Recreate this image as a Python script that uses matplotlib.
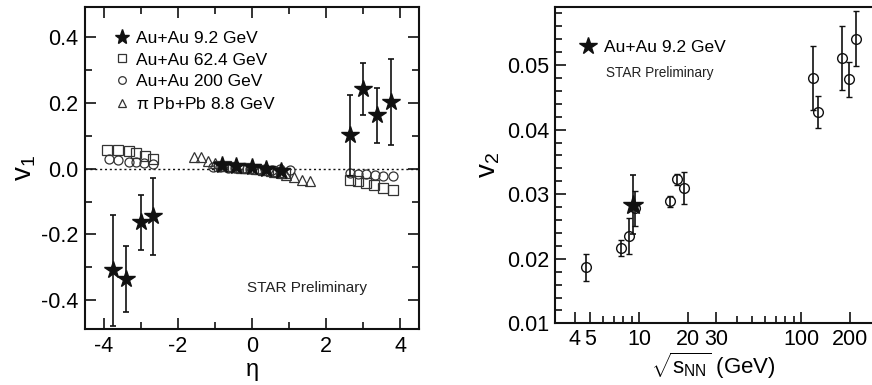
import matplotlib
matplotlib.use("Agg")
import matplotlib.pyplot as plt
from matplotlib.lines import Line2D
from matplotlib.ticker import MultipleLocator, FixedLocator, FixedFormatter, NullFormatter

plt.rcParams['font.family'] = ['Liberation Sans', 'DejaVu Sans']
plt.rcParams['mathtext.fontset'] = 'custom'
plt.rcParams['mathtext.rm'] = 'Liberation Sans'
plt.rcParams['mathtext.it'] = 'Liberation Sans'

# ---------------- Left panel data: v1 vs eta ----------------
eta_au9 = [-3.75, -3.39, -3.0, -2.67, -0.82, -0.44, 0.0, 0.38, 0.77, 2.64, 3.0, 3.37, 3.75]
v1_au9 = [-0.309, -0.334, -0.163, -0.145, 0.010, 0.007, 0.004, -0.002, -0.008, 0.101, 0.242, 0.162, 0.202]
v1_au9_err = [0.168, 0.100, 0.084, 0.117, 0.008, 0.007, 0.007, 0.007, 0.008, 0.124, 0.079, 0.083, 0.130]

eta_au62 = [-3.9, -3.6, -3.32, -3.13, -2.89, -2.67,
            -0.9, -0.7, -0.5, -0.3, -0.1, 0.1, 0.3, 0.5, 0.7, 0.9,
            2.64, 2.86, 3.07, 3.28, 3.52, 3.81]
v1_au62 = [0.058, 0.058, 0.055, 0.048, 0.039, 0.030,
           0.009, 0.007, 0.005, 0.003, 0.001, -0.001, -0.004, -0.007, -0.010, -0.014,
           -0.034, -0.039, -0.043, -0.049, -0.058, -0.064]

eta_au200 = [-3.85, -3.61, -3.32, -3.13, -2.91, -2.67,
             -1.05, -0.85, -0.65, -0.45, -0.25, -0.05, 0.15, 0.35, 0.55, 0.75, 1.03,
             2.64, 2.86, 3.07, 3.31, 3.54, 3.81]
v1_au200 = [0.030, 0.027, 0.020, 0.020, 0.017, 0.014,
            0.005, 0.004, 0.003, 0.002, 0.001, 0.000, -0.001, -0.002, -0.003, -0.002, -0.003,
            -0.014, -0.015, -0.017, -0.020, -0.023, -0.023]

eta_pb = [-1.55, -1.38, -1.19, -1.01, -0.8, -0.6, -0.4, -0.2,
          0.2, 0.4, 0.6, 0.8, 0.92, 1.12, 1.35, 1.55]
v1_pb = [0.036, 0.034, 0.023, 0.017, 0.013, 0.009, 0.005, 0.002,
         -0.002, -0.005, -0.009, -0.013, -0.020, -0.026, -0.034, -0.038]

legend_labels = ['Au+Au 9.2 GeV', 'Au+Au 62.4 GeV', 'Au+Au 200 GeV', r'$\pi$ Pb+Pb 8.8 GeV']

# ---------------- Right panel data: v2 vs sqrt(s_NN) ----------------
sqs_other = [4.7, 7.7, 8.65, 9.4, 15.5, 17.1, 19.0, 118, 128, 179, 197, 218]
v2_other = [0.0187, 0.0217, 0.0235, 0.0278, 0.0289, 0.0323, 0.0310, 0.0480, 0.0427, 0.0511, 0.0478, 0.0541]
v2_other_err = [0.0021, 0.0012, 0.0028, 0.0027, 0.0009, 0.0009, 0.0025, 0.0050, 0.0025, 0.0049, 0.0027, 0.0042]

sqs_au9 = [9.2]
v2_au9 = [0.0284]
v2_au9_err = [0.0046]

xtick_vals = [4, 5, 10, 20, 30, 100, 200]
xtick_labels = ['4', '5', '10', '20', '30', '100', '200']

ink = '#111111'
grey = '#333333'

fig = plt.figure(figsize=(8.72, 3.85), dpi=100)
ax1 = fig.add_axes([0.0975, 0.1455, 0.383, 0.8355])
ax2 = fig.add_axes([0.6365, 0.160, 0.3625, 0.822])

# ---- left ----
ax1.axhline(0, color=ink, ls=(0, (1.5, 2)), lw=1.0, zorder=1)
ax1.plot(eta_au62, v1_au62, ls='none', marker='s', ms=6.5, mfc='none', mec=grey, mew=0.9, zorder=3)
ax1.plot(eta_au200, v1_au200, ls='none', marker='o', ms=6.5, mfc='none', mec=grey, mew=0.9, zorder=3)
ax1.plot(eta_pb, v1_pb, ls='none', marker='^', ms=7, mfc='none', mec=grey, mew=0.9, zorder=3)
ax1.errorbar(eta_au9, v1_au9, yerr=v1_au9_err, ls='none', marker='*', ms=13, color=ink, mfc=ink, mec=ink,
             elinewidth=1.2, capsize=2, capthick=1.2, zorder=4)

ax1.set_xlim(-4.5, 4.5)
ax1.set_ylim(-0.487, 0.49)
ax1.xaxis.set_minor_locator(MultipleLocator(1))
ax1.yaxis.set_minor_locator(MultipleLocator(0.1))
ax1.set_yticks([-0.4, -0.2, 0.0, 0.2, 0.4])
ax1.set_yticklabels(['-0.4', '-0.2', '0.0', '0.2', '0.4'])
ax1.set_xticks([-4, -2, 0, 2, 4])
ax1.set_xticklabels(['-4', '-2', '0', '2', '4'])
ax1.tick_params(which='both', direction='in', top=True, right=True, labelsize=15.5, width=1.2, color=ink)
ax1.tick_params(which='major', length=8, pad=5)
ax1.tick_params(which='minor', length=5)
for s in ax1.spines.values():
    s.set_linewidth(1.5)
    s.set_color(ink)
ax1.set_xlabel(r'$\eta$', fontsize=17, labelpad=3)
ax1.set_ylabel(r'v$_1$', fontsize=20, labelpad=2)

handles = [
    Line2D([], [], ls='none', marker='*', ms=11, color=ink),
    Line2D([], [], ls='none', marker='s', ms=5.5, mfc='none', mec=grey, mew=0.9),
    Line2D([], [], ls='none', marker='o', ms=5.5, mfc='none', mec=grey, mew=0.9),
    Line2D([], [], ls='none', marker='^', ms=5.5, mfc='none', mec=grey, mew=0.9),
]
ax1.legend(handles, legend_labels, loc='upper left', bbox_to_anchor=(0.06, 0.96),
           frameon=False, fontsize=12.5, handlelength=0.8, handletextpad=0.4, labelspacing=0.38,
           borderaxespad=0.2)
ax1.text(0.485, 0.115, 'STAR Preliminary', transform=ax1.transAxes, fontsize=11, color='#222222')

# ---- right ----
ax2.errorbar(sqs_other, v2_other, yerr=v2_other_err, ls='none', marker='o', ms=7, mfc='none', mec=ink,
             color=ink, mew=1.0, elinewidth=1.2, capsize=2, capthick=1.2, zorder=3)
ax2.errorbar(sqs_au9, v2_au9, yerr=v2_au9_err, ls='none', marker='*', ms=15, color=ink, mfc=ink, mec=ink,
             elinewidth=1.2, capsize=2, capthick=1.2, zorder=4)
ax2.set_xscale('log')
ax2.set_xlim(3.03, 271)
ax2.set_ylim(0.01, 0.059)
ax2.xaxis.set_major_locator(FixedLocator(xtick_vals))
ax2.xaxis.set_major_formatter(FixedFormatter(xtick_labels))
ax2.xaxis.set_minor_locator(FixedLocator([6, 7, 8, 9, 40, 50, 60, 70, 80, 90]))
ax2.xaxis.set_minor_formatter(NullFormatter())
ax2.yaxis.set_minor_locator(MultipleLocator(0.002))
ax2.set_yticks([0.01, 0.02, 0.03, 0.04, 0.05])
ax2.set_yticklabels(['0.01', '0.02', '0.03', '0.04', '0.05'])
ax2.tick_params(which='both', direction='in', labelsize=15.5, width=1.2, color=ink)
ax2.tick_params(which='major', length=8, pad=4)
ax2.tick_params(which='minor', length=5)
for s in ax2.spines.values():
    s.set_linewidth(1.5)
    s.set_color(ink)
ax2.spines['right'].set_visible(False)
ax2.set_xlabel(r'$\sqrt{\mathrm{s}_{\mathrm{NN}}}$ (GeV)', fontsize=16, labelpad=0)
ax2.set_ylabel(r'v$_2$', fontsize=20, labelpad=4)
ax2.legend([Line2D([], [], ls='none', marker='*', ms=13, color=ink)], ['Au+Au 9.2 GeV'],
           loc='upper left', bbox_to_anchor=(0.03, 0.945), frameon=False, fontsize=12.5,
           handlelength=0.9, handletextpad=0.5)
ax2.text(0.16, 0.78, 'STAR Preliminary', transform=ax2.transAxes, fontsize=9.8, color='#222222')

fig.savefig('out.png', dpi=100)
